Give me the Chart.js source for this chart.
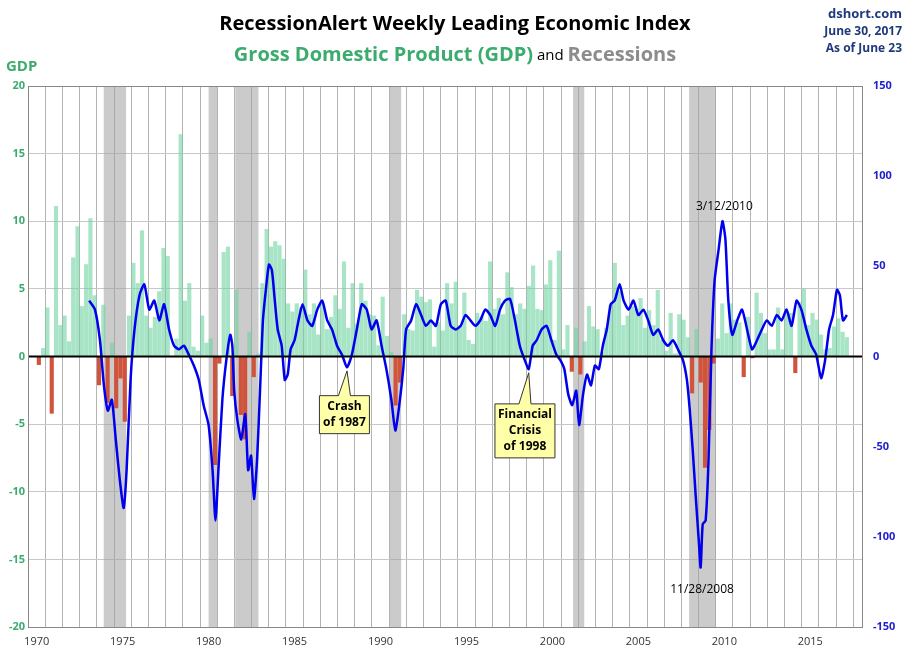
<!DOCTYPE html>
<html><head><meta charset="utf-8">
<script src="https://cdn.jsdelivr.net/npm/chart.js@4"></script>
<style>body{margin:0;background:#fff}</style></head>
<body><canvas id="c" width="910" height="661"></canvas>
<script>
const gdpStartYear = 1970;
const gdp = [
-0.6,0.6,3.6,-4.2, 11.1,2.3,3.0,1.1, 7.3,9.6,3.7,6.8, 10.2,4.5,-2.1,3.8,
-3.4,1.0,-3.8,-1.6, -4.8,3.0,6.9,5.4, 9.3,3.0,2.1,2.9, 4.8,8.0,7.4,0.0,
1.3,16.4,4.1,5.4, 0.7,0.4,3.0,1.0, 1.3,-8.0,-0.5,7.7, 8.1,-2.9,4.9,-4.3,
-6.1,1.8,-1.5,0.2, 5.4,9.4,8.1,8.5, 8.2,7.2,3.9,3.3, 3.9,3.6,6.4,3.1,
3.9,1.6,3.9,2.0, 2.9,4.5,3.5,7.0, 2.1,5.4,2.4,5.4, 4.1,3.1,3.0,0.8,
4.4,1.5,0.3,-3.6, -1.9,3.1,2.0,1.9, 4.9,4.4,4.0,4.2, 0.7,2.5,1.9,5.4,
3.9,5.5,2.3,4.7, 1.2,0.9,3.2,2.9, 2.6,7.0,3.5,4.3, 3.1,6.2,5.1,3.1,
3.9,3.5,5.2,6.7, 3.5,3.4,5.3,7.1, 1.2,7.8,0.5,2.3, -1.1,2.1,-1.3,1.1,
3.7,2.2,2.0,0.3, 2.1,3.8,6.9,4.8, 2.3,3.0,3.7,3.5, 4.3,2.1,3.4,2.3,
4.9,1.2,0.4,3.2, 0.2,3.1,2.7,1.4, -2.7,2.0,-1.9,-8.2, -5.4,-0.5,1.3,3.9,
1.7,3.9,2.7,2.5, -1.5,2.9,-0.1,4.7, 3.2,1.7,0.5,0.5, 3.6,0.5,3.2,3.2,
-1.2,4.0,5.0,2.3, 3.2,2.7,1.6,0.5, 0.6,2.2,2.8,1.8, 1.4];
const wliYears = [1973.05,1973.39,1973.68,1973.91,1974.14,1974.37,1974.60,1974.83,1975.06,1975.23,1975.46,1975.69,1975.98,1976.26,1976.55,1976.84,1977.13,1977.41,1977.70,1977.99,1978.28,1978.56,1978.85,1979.14,1979.43,1979.71,1980.0,1980.23,1980.40,1980.57,1980.80,1981.03,1981.26,1981.38,1981.49,1981.67,1981.90,1982.13,1982.30,1982.47,1982.64,1982.82,1982.99,1983.16,1983.33,1983.51,1983.68,1983.85,1984.02,1984.25,1984.43,1984.60,1984.77,1985.0,1985.23,1985.46,1985.75,1986.03,1986.32,1986.61,1986.90,1987.18,1987.47,1987.76,1988.05,1988.33,1988.62,1988.91,1989.20,1989.48,1989.77,1990.06,1990.34,1990.63,1990.86,1991.09,1991.32,1991.49,1991.78,1992.07,1992.36,1992.64,1992.93,1993.22,1993.51,1993.79,1994.08,1994.37,1994.66,1994.94,1995.23,1995.52,1995.80,1996.09,1996.38,1996.67,1996.95,1997.24,1997.53,1997.82,1998.10,1998.39,1998.62,1998.85,1999.08,1999.37,1999.66,1999.94,2000.23,2000.46,2000.69,2000.92,2001.15,2001.38,2001.55,2001.78,2002.01,2002.24,2002.47,2002.70,2002.93,2003.16,2003.39,2003.62,2003.91,2004.14,2004.43,2004.71,2005.0,2005.29,2005.57,2005.86,2006.15,2006.44,2006.72,2007.01,2007.30,2007.59,2007.82,2007.99,2008.16,2008.33,2008.51,2008.62,2008.74,2008.91,2009.08,2009.25,2009.43,2009.66,2009.89,2010.06,2010.23,2010.46,2010.75,2011.03,2011.32,2011.61,2011.90,2012.18,2012.47,2012.76,2013.05,2013.33,2013.62,2013.91,2014.20,2014.48,2014.77,2015.06,2015.34,2015.63,2015.86,2016.09,2016.32,2016.55,2016.72,2016.90,2017.13];
const wliValues = [31,26,9,-16,-30,-24,-46,-68,-84,-63,-13,15,34,40,26,31,20,29,15,6,4,6,1,-5,-13,-27,-38,-63,-91,-63,-24,-2,12,6,-19,-35,-46,-32,-63,-55,-79,-57,-19,20,37,51,48,31,15,6,-13,-10,4,9,20,29,20,17,26,31,20,15,6,1,-6,1,15,29,26,15,20,6,-7,-24,-41,-27,-7,15,20,29,23,17,20,17,29,31,17,15,17,23,20,17,20,26,23,17,26,31,32,20,6,-2,-7,6,9,15,17,9,1,-2,-7,-21,-27,-19,-38,-21,-10,-16,-5,-7,6,15,29,31,40,31,26,31,23,26,20,12,15,9,6,9,4,-2,-13,-30,-52,-77,-102,-117,-93,-91,-57,4,42,59,75,65,31,12,20,26,15,4,9,15,20,17,23,20,26,17,31,26,15,6,1,-12,-2,15,23,37,34,20,23];
const recessions = [[1973.9,1975.2],[1980.0,1980.5],[1981.55,1982.9],[1990.55,1991.2],[2001.2,2001.85],[2007.95,2009.5]];
const xTickYears = [1970,1975,1980,1985,1990,1995,2000,2005,2010,2015];

const gdpPts = gdp.map((v,i)=>({x:gdpStartYear+i*0.25+0.125,y:v}));
const wliPts = wliYears.map((x,i)=>({x,y:wliValues[i]}));

const bg = {id:'bg',beforeDatasetsDraw(ch){
  const {ctx,chartArea:a,scales:{x}}=ch; ctx.save();
  ctx.fillStyle='rgba(160,160,160,0.55)';
  recessions.forEach(([s,e])=>{const l=x.getPixelForValue(s),r=x.getPixelForValue(e);ctx.fillRect(l,a.top,r-l,a.bottom-a.top);});
  ctx.restore();}};
const deco = {id:'deco',afterDraw(ch){
  const {ctx,chartArea:a,scales:{x,y,y2}}=ch; ctx.save();
  const y0=y.getPixelForValue(0); ctx.strokeStyle='#000';ctx.lineWidth=2;
  ctx.beginPath();ctx.moveTo(a.left,y0);ctx.lineTo(a.right,y0);ctx.stroke();
  ctx.strokeStyle='#888';ctx.lineWidth=1;ctx.strokeRect(a.left+0.5,a.top+0.5,a.right-a.left,a.bottom-a.top);
  ctx.textAlign='center';ctx.textBaseline='middle';
  ctx.fillStyle='#000';ctx.font='bold 20px "Open Sans"';
  ctx.fillText('RecessionAlert Weekly Leading Economic Index',455,24);
  const p1='Gross Domestic Product (GDP)';
  ctx.font='15px "Open Sans"';const wAnd=ctx.measureText(' and ').width;
  ctx.font='bold 20px "Open Sans"';const w1=ctx.measureText(p1).width,w2=ctx.measureText('Recessions').width;
  let sx=455-(w1+wAnd+w2)/2; ctx.textAlign='left';
  ctx.fillStyle='#3cac6e';ctx.fillText(p1,sx,55);sx+=w1;
  ctx.font='15px "Open Sans"';ctx.fillStyle='#000';ctx.fillText(' and ',sx,56);sx+=wAnd;
  ctx.font='bold 20px "Open Sans"';ctx.fillStyle='#8c8c8c';ctx.fillText('Recessions',sx,55);
  ctx.textAlign='right';ctx.fillStyle='#1f3a7a';ctx.font='bold 13px "Open Sans"';
  ctx.fillText('dshort.com',902,14);ctx.font='bold 12px "Open Sans"';
  ctx.fillText('June 30, 2017',902,32);ctx.fillText('As of June 23',902,49);
  ctx.textAlign='left';ctx.fillStyle='#3cac6e';ctx.font='bold 15px "Open Sans"';ctx.fillText('GDP',6,67);
  ctx.textAlign='center';ctx.fillStyle='#000';ctx.font='12px "Open Sans"';
  ctx.fillText('3/12/2010',x.getPixelForValue(2010.0),y2.getPixelForValue(83));
  ctx.fillText('11/28/2008',x.getPixelForValue(2008.7),y2.getPixelForValue(-129));
  function callout(lines,cx,cy,w,h,tx,ty){
    ctx.fillStyle='#ffffa8';ctx.strokeStyle='#333';ctx.lineWidth=1;
    ctx.beginPath();ctx.moveTo(cx-w/2,cy-h/2);ctx.lineTo(cx-6,cy-h/2);ctx.lineTo(tx,ty);ctx.lineTo(cx+6,cy-h/2);
    ctx.lineTo(cx+w/2,cy-h/2);ctx.lineTo(cx+w/2,cy+h/2);ctx.lineTo(cx-w/2,cy+h/2);ctx.closePath();ctx.fill();ctx.stroke();
    ctx.fillStyle='#000';ctx.font='bold 12px "Open Sans"';
    lines.forEach((l,i)=>ctx.fillText(l,cx,cy-(lines.length-1)*8+i*16));}
  callout(['Crash','of 1987'],x.getPixelForValue(1987.9),y.getPixelForValue(-4.3),50,38,x.getPixelForValue(1988.05),y2.getPixelForValue(-8));
  callout(['Financial','Crisis','of 1998'],x.getPixelForValue(1998.4),y.getPixelForValue(-5.5),60,54,x.getPixelForValue(1998.62),y2.getPixelForValue(-9));
  ctx.restore();}};

new Chart(document.getElementById('c'),{
  data:{datasets:[
    {type:'line',data:wliPts,yAxisID:'y2',borderColor:'#0000ee',borderWidth:2.5,pointRadius:0,tension:0.2},
    {type:'bar',data:gdpPts,yAxisID:'y',barThickness:3.5,
     backgroundColor:gdp.map(v=>v<0?'#d0533c':'rgba(110,210,160,0.6)')}
  ]},
  options:{responsive:false,animation:false,
    layout:{padding:{top:86,left:0,right:0,bottom:0}},
    plugins:{legend:{display:false},tooltip:{enabled:false}},
    scales:{
      x:{type:'linear',min:1970,max:2017.5,
        afterBuildTicks(s){const t=[];for(let yr=1970;yr<=2017;yr++)t.push({value:yr});s.ticks=t;},
        afterFit(s){s.height=34;},
        grid:{color:'#b4b4b4',drawTicks:false},border:{display:false},
        ticks:{autoSkip:false,maxRotation:0,padding:8,color:'#333',font:{size:11,family:'"Open Sans"'},
          callback:v=>xTickYears.includes(v)?String(v):''}},
      y:{position:'left',min:-20,max:20,afterFit(s){s.width=28;},
        ticks:{stepSize:5,color:'#3cac6e',font:{size:11,weight:'bold',family:'"Open Sans"'}},
        grid:{color:'#c8c8c8',drawTicks:false},border:{display:false}},
      y2:{position:'right',min:-150,max:150,afterFit(s){s.width=48;},
        ticks:{stepSize:50,color:'#2020d0',font:{size:11,weight:'bold',family:'"Open Sans"'}},
        grid:{display:false},border:{display:false}}
    }},
  plugins:[bg,deco]
});
</script></body></html>
